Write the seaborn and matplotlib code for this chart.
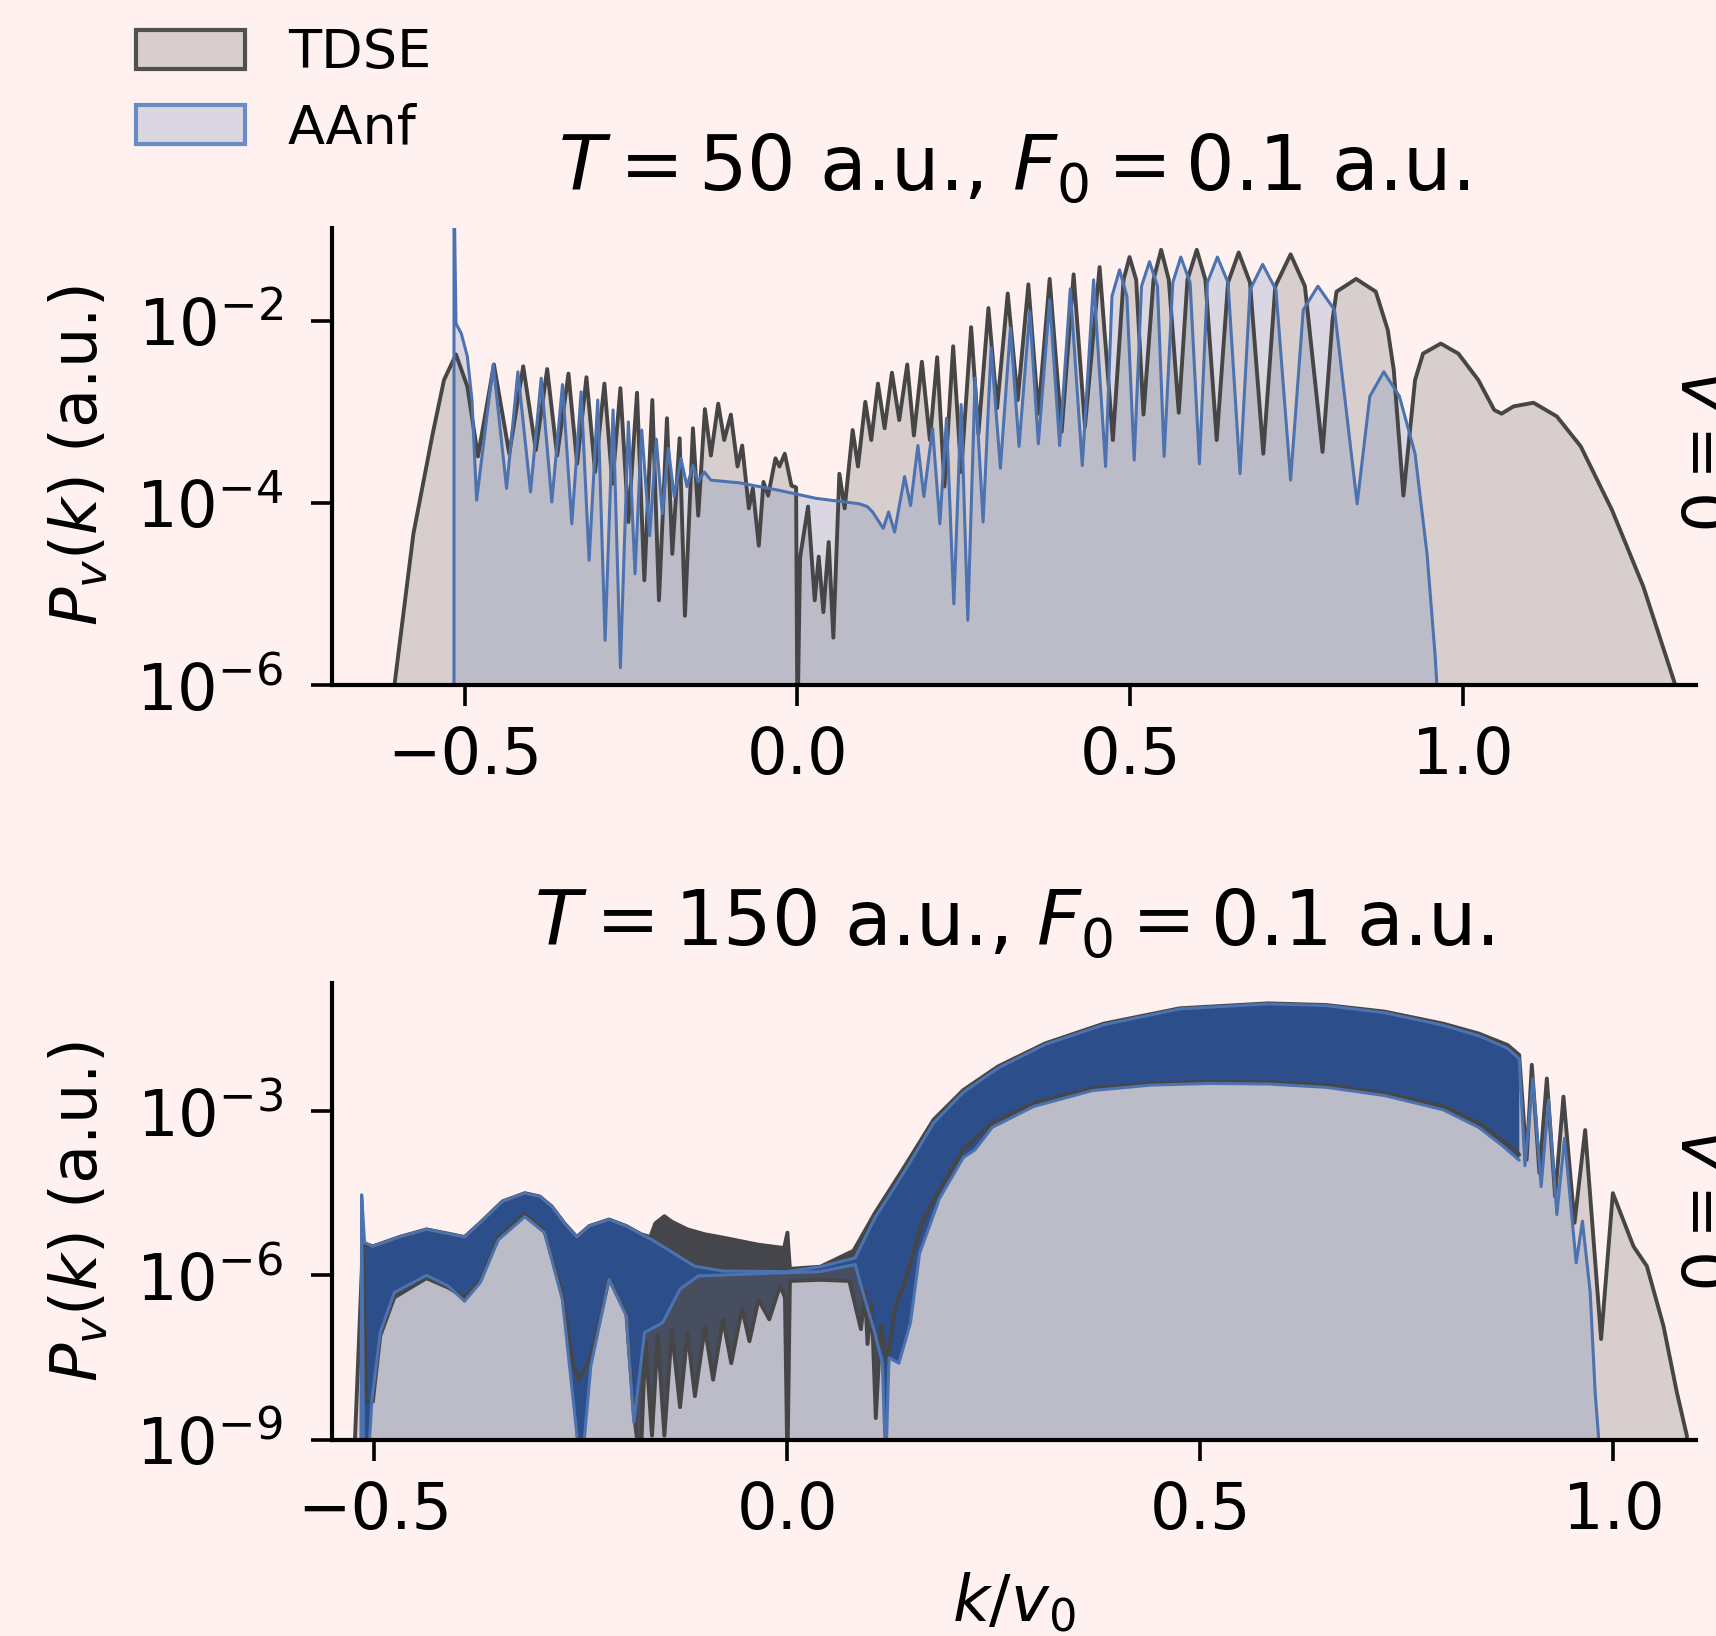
import numpy as np
import matplotlib
matplotlib.use('Agg')
from matplotlib import pyplot as plt
from matplotlib.patches import Patch
from matplotlib.ticker import NullLocator
import seaborn as sns

# ---------- T = 50 a.u. panel: k/v0 and log10 P_v(k) ----------
t50_tdse_k = [-0.614, -0.577, -0.548, -0.531, -0.513, -0.496, -0.480, -0.456, -0.433, -0.412,
              -0.393, -0.376, -0.361, -0.344, -0.331, -0.317, -0.304, -0.290, -0.278, -0.266,
              -0.254, -0.241, -0.230, -0.218, -0.208, -0.196, -0.188, -0.177, -0.169, -0.157,
              -0.149, -0.139, -0.130, -0.119, -0.110, -0.100, -0.090, -0.083, -0.073, -0.067,
              -0.058, -0.051, -0.044, -0.033, -0.027, -0.019, -0.009, -0.002, 0.000, 0.004,
              0.016, 0.026, 0.032, 0.039, 0.047, 0.054, 0.063, 0.071, 0.083, 0.091,
              0.102, 0.111, 0.121, 0.131, 0.142, 0.153, 0.165, 0.175, 0.187, 0.199,
              0.210, 0.221, 0.234, 0.246, 0.261, 0.272, 0.287, 0.300, 0.316, 0.331,
              0.347, 0.362, 0.379, 0.397, 0.415, 0.432, 0.454, 0.474,
              0.490, 0.499, 0.509, 0.520, 0.535, 0.5465, 0.558, 0.573,
              0.586, 0.600, 0.613, 0.630, 0.647, 0.663, 0.680, 0.700,
              0.718, 0.741, 0.7625, 0.789, 0.804, 0.810, 0.8395, 0.869, 0.887, 0.896, 0.9105,
              0.928, 0.940, 0.9667, 0.993, 1.023, 1.047, 1.058, 1.076, 1.106, 1.141,
              1.177, 1.224, 1.271, 1.319, 1.322]
t50_tdse_logp = [-6.5, -4.34, -3.24, -2.65, -2.37, -2.72, -3.49, -2.48, -3.46, -2.50,
                 -3.42, -2.53, -3.48, -2.58, -3.57, -2.62, -3.66, -2.69, -3.79, -2.74,
                 -4.21, -2.79, -4.85, -2.87, -5.07, -3.07, -4.56, -3.29, -5.24, -3.18,
                 -4.14, -2.97, -3.48, -2.91, -3.31, -3.03, -3.60, -3.37, -4.06, -3.84,
                 -4.47, -3.77, -3.92, -3.51, -3.60, -3.46, -3.81, -3.83, -6.5, -4.60,
                 -4.04, -5.07, -4.59, -5.20, -4.43, -5.48, -3.68, -4.06, -3.20, -3.60,
                 -2.89, -3.31, -2.69, -3.18, -2.57, -3.09, -2.48, -3.26, -2.45, -3.31,
                 -2.40, -3.82, -2.28, -3.66, -2.07, -3.24, -1.86, -2.96, -1.70, -2.87,
                 -1.60, -3.02, -1.54, -3.22, -1.49, -3.16, -1.41, -3.31,
                 -1.55, -1.30, -1.55, -3.03, -1.55, -1.22, -1.55, -3.01,
                 -1.55, -1.22, -1.55, -3.31, -1.58, -1.25, -1.58, -3.46,
                 -1.62, -1.27, -1.62, -3.44, -1.99, -1.68, -1.54, -1.68, -2.10, -2.54, -3.92,
                 -2.65, -2.36, -2.25, -2.36, -2.65, -2.98, -3.02, -2.94, -2.90, -3.05,
                 -3.38, -4.08, -4.92, -6.0, -6.5]

t50_aanf_k = [-0.516, -0.516, -0.513, -0.505, -0.496, -0.489, -0.482, -0.457, -0.437, -0.420,
              -0.401, -0.385, -0.369, -0.353, -0.339, -0.325, -0.313, -0.300, -0.289, -0.277,
              -0.266, -0.254, -0.244, -0.234, -0.222, -0.212, -0.203, -0.194, -0.185, -0.175,
              -0.166, -0.157, -0.149, -0.140, -0.130, -0.087, -0.029, 0.028, 0.093, 0.105,
              0.113, 0.129, 0.137, 0.146, 0.161, 0.170, 0.181, 0.190, 0.203, 0.214,
              0.224, 0.235, 0.246, 0.256, 0.267, 0.279, 0.291, 0.305, 0.320, 0.333,
              0.349, 0.362, 0.379, 0.394, 0.410, 0.428, 0.445, 0.463,
              0.4726, 0.484, 0.495, 0.506, 0.517, 0.529, 0.541, 0.551,
              0.564, 0.576, 0.590, 0.604, 0.616, 0.631, 0.647, 0.665,
              0.680, 0.699, 0.719, 0.741, 0.760, 0.782, 0.807, 0.841,
              0.860, 0.881, 0.9045, 0.928, 0.946, 0.958, 0.965]
t50_aanf_logp = [-6.5, -0.5, -2.03, -2.14, -2.39, -2.87, -3.97, -2.48, -3.84, -2.56,
                 -3.88, -2.63, -3.99, -2.70, -4.23, -2.78, -4.63, -2.87, -5.51, -2.98,
                 -5.81, -3.11, -4.78, -3.20, -4.36, -3.30, -4.12, -3.40, -3.93, -3.51,
                 -3.82, -3.59, -3.77, -3.66, -3.75, -3.78, -3.86, -3.95, -4.01, -4.04,
                 -4.10, -4.28, -4.10, -4.32, -3.71, -4.03, -3.37, -3.93, -3.18, -4.23,
                 -3.07, -5.11, -2.92, -5.29, -2.63, -4.21, -2.30, -3.62, -2.08, -3.38,
                 -1.90, -3.35, -1.77, -3.37, -1.65, -3.59, -1.55, -3.60,
                 -1.73, -1.44, -1.73, -3.53, -1.62, -1.35, -1.62, -3.49,
                 -1.58, -1.30, -1.58, -3.57, -1.58, -1.30, -1.58, -3.68,
                 -1.66, -1.38, -1.66, -3.75, -1.88, -1.62, -1.88, -4.01,
                 -2.83, -2.56, -2.83, -3.46, -4.56, -5.66, -6.5]

# ---------- T = 150 a.u. panel: unresolved fringes given as upper / lower envelopes ----------
t150_tdse_hi_k = [-0.525, -0.514, -0.502, -0.470, -0.437, -0.410, -0.391, -0.372, -0.345, -0.318,
                  -0.300, -0.2855, -0.270, -0.255, -0.240, -0.216, -0.195, -0.177, -0.166, -0.160,
                  -0.149, -0.140, -0.121, -0.100, -0.078, -0.035, -0.004, 0.000, 0.003, 0.040,
                  0.080, 0.106, 0.142, 0.177, 0.213, 0.255, 0.312, 0.383, 0.475, 0.582,
                  0.652, 0.723, 0.794, 0.837, 0.872, 0.886]
t150_tdse_hi = [-9.5, -5.41, -5.47, -5.30, -5.16, -5.24, -5.30, -5.04, -4.65, -4.50,
                -4.56, -4.74, -5.05, -5.30, -5.10, -4.98, -5.10, -5.25, -5.30, -5.05,
                -4.92, -5.02, -5.16, -5.25, -5.31, -5.44, -5.50, -5.22, -5.88, -5.84,
                -5.55, -4.86, -4.01, -3.16, -2.62, -2.19, -1.77, -1.41, -1.13, -1.04,
                -1.07, -1.19, -1.41, -1.59, -1.80, -1.98]
t150_tdse_lo_k = [-0.514, -0.510, -0.502, -0.493, -0.476, -0.437, -0.411, -0.391, -0.372, -0.350,
                  -0.318, -0.294, -0.2725, -0.260, -0.253, -0.238, -0.216, -0.195, -0.186, -0.178,
                  -0.172, -0.164, -0.157, -0.149, -0.140, -0.130, -0.121, -0.112, -0.100, -0.090,
                  -0.078, -0.068, -0.055, -0.046, -0.035, -0.022, -0.009, -0.003, 0.000, 0.003,
                  0.040, 0.075, 0.089, 0.094, 0.097, 0.102, 0.107, 0.113, 0.121, 0.130,
                  0.142, 0.163, 0.184, 0.213, 0.248, 0.298, 0.369, 0.440, 0.511, 0.582,
                  0.652, 0.723, 0.794, 0.837, 0.867, 0.881, 0.886]
t150_tdse_lo = [-5.50, -8.30, -8.30, -7.10, -6.40, -6.05, -6.22, -6.40, -6.10, -5.30,
                -4.88, -5.20, -6.35, -7.60, -7.90, -7.50, -6.05, -6.70, -8.50, -9.50,
                -7.20, -8.92, -7.10, -8.92, -7.00, -8.40, -7.04, -8.20, -6.95, -7.90,
                -6.80, -7.60, -6.60, -7.20, -6.44, -6.80, -6.19, -6.40, -9.50, -6.10,
                -6.08, -6.10, -6.98, -6.30, -7.25, -6.50, -8.60, -6.90, -7.59, -6.60,
                -6.13, -5.04, -4.44, -3.71, -3.22, -2.86, -2.59, -2.50, -2.47, -2.48,
                -2.53, -2.68, -2.92, -3.22, -3.56, -3.71, -3.80]
t150_tdse_tail_k = [0.895, 0.9013, 0.9105, 0.9195, 0.9295, 0.9396, 0.953, 0.9659, 0.9852, 0.9994,
                    1.0244, 1.0406, 1.0607, 1.0769, 1.089, 1.092]
t150_tdse_tail = [-3.89, -2.16, -4.13, -2.41, -4.56, -2.74, -5.04, -3.35, -7.16, -4.50,
                  -5.47, -5.83, -6.92, -8.13, -8.92, -9.80]

t150_aanf_hi_k = [-0.5165, -0.5155, -0.512, -0.502, -0.470, -0.437, -0.410, -0.391, -0.372, -0.345,
                  -0.318, -0.300, -0.2855, -0.270, -0.255, -0.240, -0.216, -0.195, -0.177, -0.164,
                  -0.138, -0.1125, -0.078, 0.000, 0.040, 0.082, 0.106, 0.142, 0.177, 0.213,
                  0.255, 0.312, 0.383, 0.475, 0.582, 0.652, 0.723, 0.794, 0.837, 0.872,
                  0.886]
t150_aanf_hi = [-9.5, -4.53, -5.40, -5.47, -5.30, -5.16, -5.24, -5.30, -5.04, -4.65,
                -4.50, -4.56, -4.74, -5.05, -5.30, -5.10, -4.98, -5.10, -5.25, -5.35,
                -5.59, -5.83, -5.92, -5.93, -5.84, -5.68, -4.95, -4.10, -3.22, -2.66,
                -2.22, -1.79, -1.43, -1.14, -1.05, -1.08, -1.21, -1.44, -1.63, -1.86,
                -2.05]
t150_aanf_lo_k = [-0.5155, -0.513, -0.508, -0.503, -0.493, -0.476, -0.437, -0.411, -0.391, -0.372,
                  -0.350, -0.318, -0.294, -0.2725, -0.2552, -0.253, -0.249, -0.238, -0.216, -0.195,
                  -0.186, -0.173, -0.151, -0.130, -0.108, 0.000, 0.040, 0.082, 0.095, 0.105,
                  0.115, 0.119, 0.123, 0.135, 0.149, 0.160, 0.184, 0.213, 0.227, 0.248,
                  0.298, 0.369, 0.440, 0.511, 0.582, 0.652, 0.723, 0.794, 0.837, 0.867,
                  0.886]
t150_aanf_lo = [-4.60, -9.50, -9.50, -8.25, -7.04, -6.31, -6.00, -6.19, -6.47, -6.13,
                -5.35, -4.93, -5.22, -6.44, -8.86, -9.50, -9.50, -7.65, -6.07, -6.74,
                -8.68, -7.04, -6.86, -6.25, -6.01, -5.95, -5.93, -5.80, -6.50, -7.00,
                -7.60, -9.50, -7.50, -7.60, -6.86, -5.60, -4.60, -3.85, -3.71, -3.30,
                -2.92, -2.63, -2.53, -2.50, -2.51, -2.57, -2.72, -2.98, -3.30, -3.65,
                -3.90]
t150_aanf_tail_k = [0.893, 0.9025, 0.9126, 0.9215, 0.9316, 0.9409, 0.955, 0.9626, 0.972, 0.978,
                    0.982, 0.983]
t150_aanf_tail = [-4.00, -2.41, -4.38, -2.80, -4.89, -3.50, -5.77, -5.01, -6.31, -8.13,
                  -8.92, -9.80]

panel_titles = [r"$T = 50$ a.u., $F_0 = 0.1$ a.u.", r"$T = 150$ a.u., $F_0 = 0.1$ a.u."]
side_label = r"$V=0$"
series_names = ["TDSE", "AAnf"]

bg = "#fef1f0"
tdse_col = "#464646"
aanf_col = "#4c72b0"

sns.set_theme(style="ticks", rc={
    "figure.facecolor": bg, "axes.facecolor": bg, "savefig.facecolor": bg,
    "axes.linewidth": 1.5, "xtick.major.width": 1.3, "ytick.major.width": 1.3,
    "xtick.major.size": 7.5, "ytick.major.size": 7.5,
    "xtick.major.pad": 7, "ytick.major.pad": 10,
    "xtick.labelsize": 23, "ytick.labelsize": 23, "axes.labelsize": 23,
    "axes.titlesize": 27.5, "axes.edgecolor": "black",
    "text.color": "black", "axes.labelcolor": "black",
    "xtick.color": "black", "ytick.color": "black",
})

fig = plt.figure(figsize=(8.58, 8.18), dpi=200)
ax1 = fig.add_axes([0.1932, 0.5813, 0.7951, 0.2796])
ax2 = fig.add_axes([0.1932, 0.1198, 0.7951, 0.2793])


def lp(v):
    return 10.0 ** np.asarray(v, dtype=float)


def curve(ax, k, logp, col, lw):
    p = lp(logp)
    ax.fill_between(k, p, 1e-12, color=col, alpha=0.2, lw=0)
    sns.lineplot(x=k, y=p, ax=ax, color=col, lw=lw, sort=False, estimator=None)


# top panel
curve(ax1, t50_tdse_k, t50_tdse_logp, tdse_col, 1.4)
curve(ax1, t50_aanf_k, t50_aanf_logp, aanf_col, 1.1)


# bottom panel: fill under outer envelope, dark band for the unresolved fringes
def dense(ax, hk, hi, lk, lo, tk, tl, col, band, lw):
    ok = np.r_[hk, tk]
    oy = lp(np.r_[hi, tl])
    ax.fill_between(ok, oy, 1e-12, color=col, alpha=0.2, lw=0)
    ax.fill(np.r_[hk, lk[::-1]], np.r_[lp(hi), lp(lo)[::-1]], color=band, lw=0)
    sns.lineplot(x=ok, y=oy, ax=ax, color=col, lw=lw, sort=False, estimator=None)
    sns.lineplot(x=lk, y=lp(lo), ax=ax, color=col, lw=lw, sort=False, estimator=None)


dense(ax2, t150_tdse_hi_k, t150_tdse_hi, t150_tdse_lo_k, t150_tdse_lo,
      t150_tdse_tail_k, t150_tdse_tail, tdse_col, "#45464b", 1.4)
dense(ax2, t150_aanf_hi_k, t150_aanf_hi, t150_aanf_lo_k, t150_aanf_lo,
      t150_aanf_tail_k, t150_aanf_tail, aanf_col, "#2c4f8b", 1.1)

ax1.set_yscale("log")
ax1.set_xlim(-0.70, 1.35)
ax1.set_ylim(1e-6, 10 ** -0.976)
ax1.set_yticks([1e-6, 1e-4, 1e-2])
ax1.set_xticks([-0.5, 0.0, 0.5, 1.0])

ax2.set_yscale("log")
ax2.set_xlim(-0.552, 1.10)
ax2.set_ylim(1e-9, 10 ** -0.67)
ax2.set_yticks([1e-9, 1e-6, 1e-3])
ax2.set_xticks([-0.5, 0.0, 0.5, 1.0])

for ax, ttl in zip([ax1, ax2], panel_titles):
    ax.yaxis.set_minor_locator(NullLocator())
    ax.set_title(ttl, pad=13.5)
    ax.set_ylabel(r"$P_v(k)$ (a.u.)", labelpad=9)
    ax.set_xlabel("")
    sns.despine(ax=ax)
ax2.set_xlabel(r"$k/v_0$", labelpad=10)

fig.text(0.972, 0.726, side_label, rotation=-90, ha="left", va="center", fontsize=23)
fig.text(0.972, 0.262, side_label, rotation=-90, ha="left", va="center", fontsize=23)

handles = [Patch(facecolor=(0.275, 0.275, 0.275, 0.2), edgecolor="#505050", lw=1.5),
           Patch(facecolor=(0.298, 0.447, 0.690, 0.2), edgecolor="#6a8cc4", lw=1.5)]
fig.legend(handles, series_names, loc="upper left", bbox_to_anchor=(0.051, 1.013),
           frameon=False, fontsize=19.5, handlelength=2.0, handleheight=0.75,
           labelspacing=0.42, handletextpad=0.8)

fig.savefig("out.png", dpi=200)
